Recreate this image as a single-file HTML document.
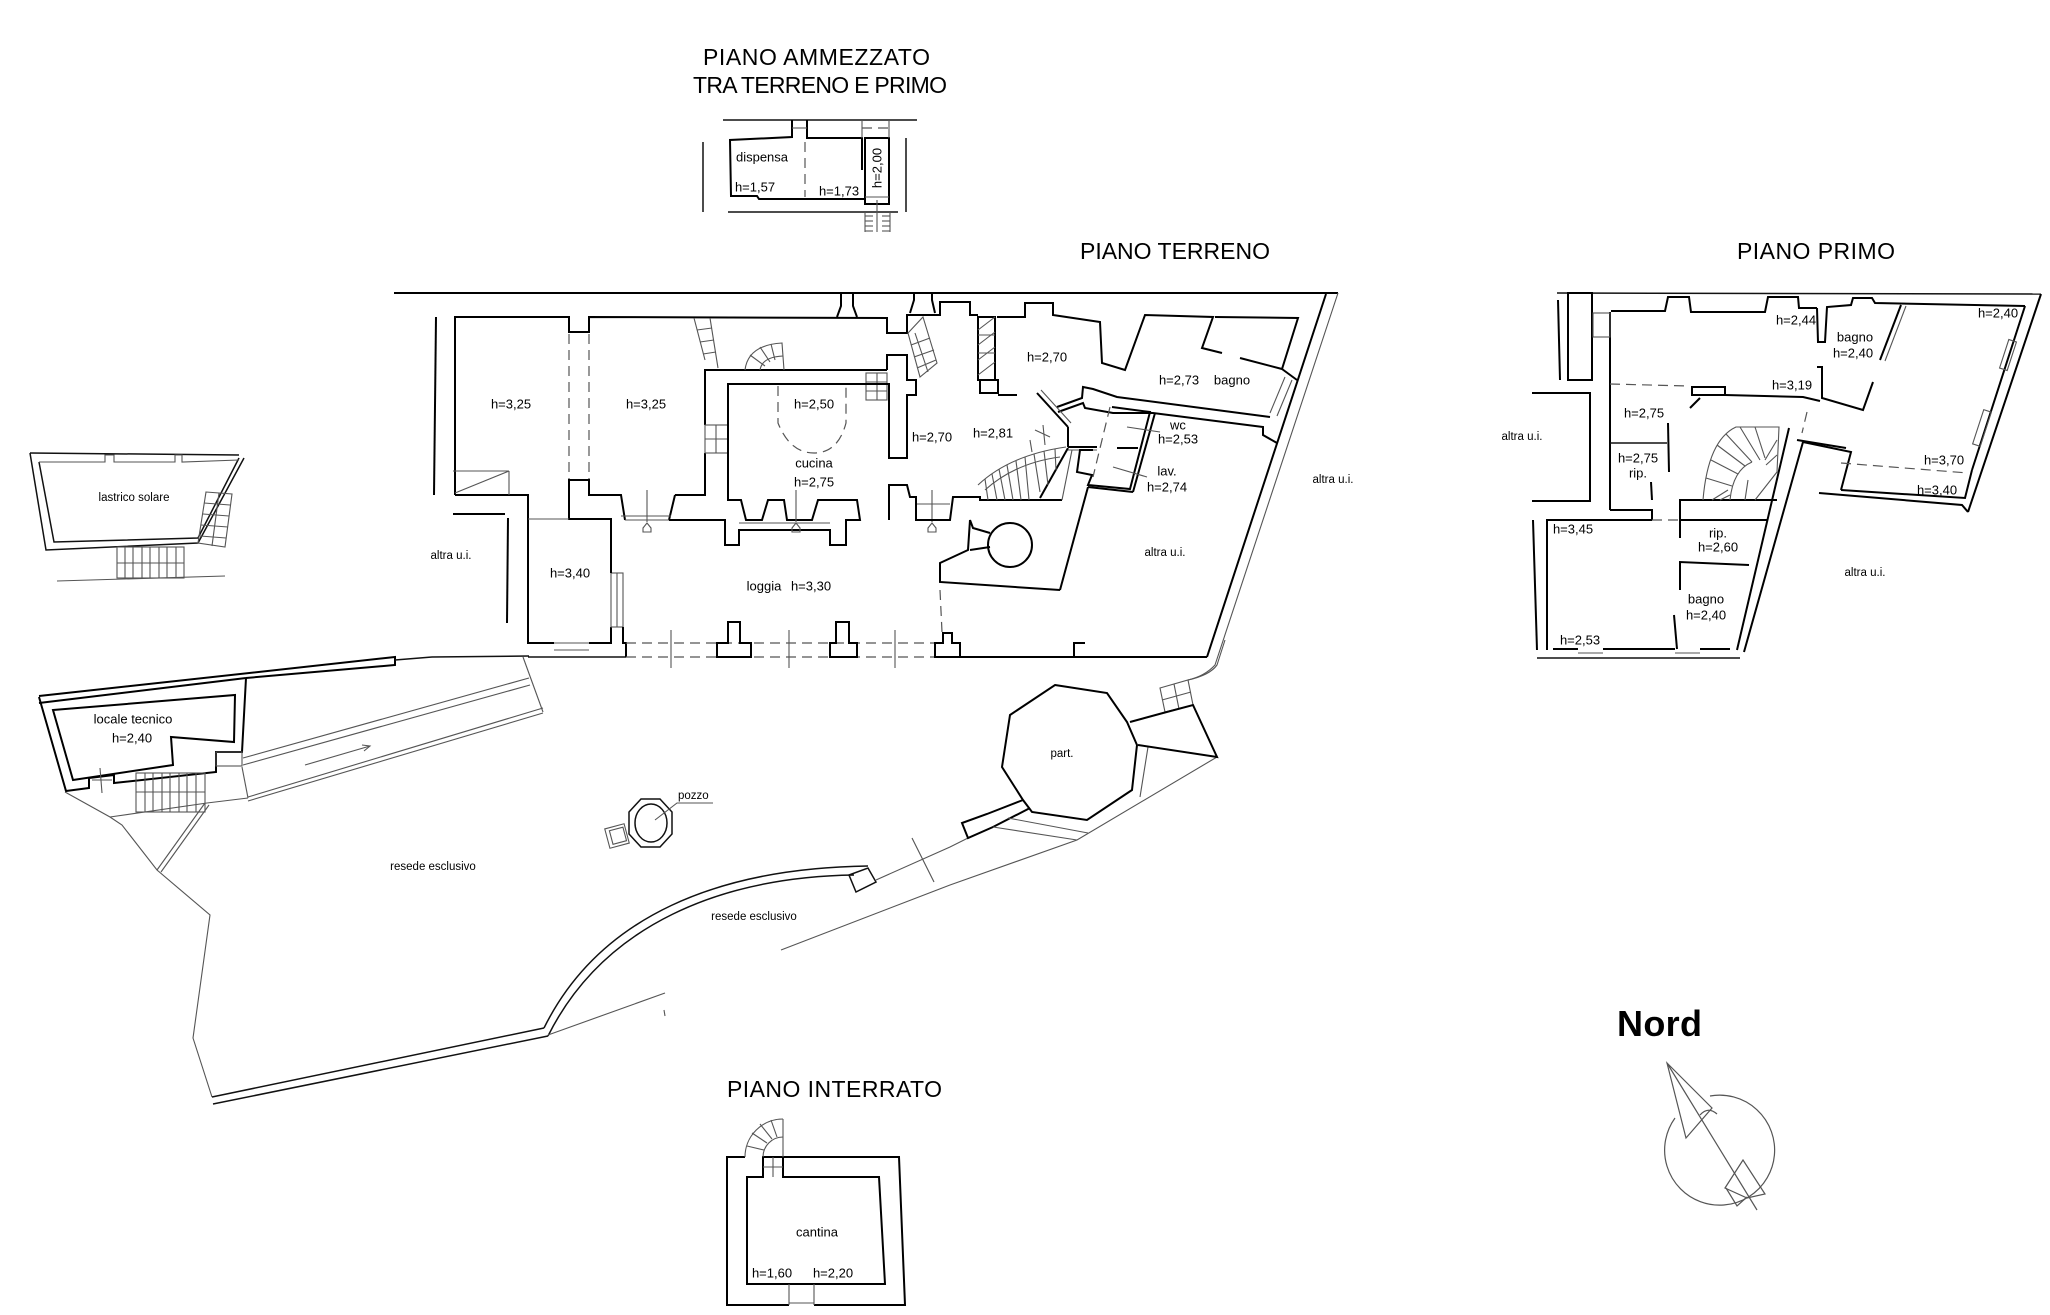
<!DOCTYPE html>
<html><head><meta charset="utf-8"><style>
html,body{margin:0;padding:0;background:#fff;}
svg{display:block;}
.w{fill:none;stroke:#000;stroke-width:2.0;stroke-linejoin:miter}
.m{fill:none;stroke:#111;stroke-width:1.5}
.t{fill:none;stroke:#555;stroke-width:1.1}
.d{fill:none;stroke:#555;stroke-width:1.2;stroke-dasharray:10 6}
text{font-family:"Liberation Sans",sans-serif;fill:#000}
.s{font-size:13px;text-anchor:middle;dominant-baseline:central}
.a{font-size:11.5px;text-anchor:middle;dominant-baseline:central}
.T{font-size:23px}
</style></head><body>
<svg width="2050" height="1315" viewBox="0 0 2050 1315" xmlns="http://www.w3.org/2000/svg">
<rect width="2050" height="1315" fill="#fff"/>

<!-- TITLES -->
<text class="T" x="703" y="65" textLength="227">PIANO AMMEZZATO</text>
<text class="T" x="693" y="93" textLength="254">TRA TERRENO E PRIMO</text>
<text class="T" x="1080" y="259" textLength="190">PIANO TERRENO</text>
<text class="T" x="1737" y="259" textLength="158">PIANO PRIMO</text>
<text class="T" x="727" y="1097" textLength="215">PIANO INTERRATO</text>
<text x="1617" y="1036" font-size="36" font-weight="bold" textLength="85">Nord</text>

<!-- DISPENSA -->
<line class="m" x1="723" y1="120" x2="917" y2="120"/>
<line class="m" x1="728" y1="212" x2="898" y2="212"/>
<line class="m" x1="703" y1="142" x2="703" y2="212"/>
<line class="m" x1="906" y1="138" x2="906" y2="212"/>
<polyline class="w" points="792,120 792,137 730,140 731,196 757,196 759,199 865,199"/>
<polyline class="w" points="807,120 807,138 862,138 862,170"/>
<rect class="w" x="865" y="138" width="24" height="66"/>
<line class="t" x1="865" y1="197" x2="889" y2="197"/>
<line class="t" x1="862" y1="120" x2="862" y2="138"/>
<line class="t" x1="889" y1="120" x2="889" y2="138"/>
<line class="d" x1="862" y1="128" x2="889" y2="128"/>
<line class="t" x1="792" y1="128" x2="807" y2="128"/>
<line class="d" x1="805" y1="142" x2="805" y2="197"/>
<g class="t"><line x1="865" y1="212" x2="865" y2="232"/><line x1="890" y1="212" x2="890" y2="232"/><line x1="877" y1="232" x2="877" y2="200"/>
<line x1="865" y1="216" x2="873" y2="216"/><line x1="865" y1="221" x2="873" y2="221"/><line x1="865" y1="226" x2="873" y2="226"/><line x1="865" y1="231" x2="873" y2="231"/>
<line x1="882" y1="216" x2="890" y2="216"/><line x1="882" y1="221" x2="890" y2="221"/><line x1="882" y1="226" x2="890" y2="226"/><line x1="882" y1="231" x2="890" y2="231"/></g>
<text class="s" x="762" y="157">dispensa</text>
<text class="s" x="755" y="187">h=1,57</text>
<text class="s" x="839" y="191">h=1,73</text>
<text class="s" x="877" y="168" transform="rotate(-90 877 168)">h=2,00</text>

<!-- LASTRICO SOLARE -->
<polyline class="m" points="30,453 239,455"/>
<polyline class="m" points="30,453 46,550 198,543 244,458"/>
<polyline class="m" points="39,462 54,542 198,538 239,458"/>
<polyline class="t" points="39,462 105,462 105,455 114,455 114,462 175,462 175,455 182,455 182,462 239,460"/>
<g class="t"><polygon points="206,492 232,494 225,547 198,543"/>
<line x1="204" y1="503" x2="230" y2="505"/><line x1="203" y1="514" x2="229" y2="516"/><line x1="201" y1="525" x2="228" y2="527"/><line x1="200" y1="536" x2="226" y2="538"/><line x1="219" y1="493" x2="212" y2="546"/>
<rect x="117" y="547" width="67" height="31"/><line x1="117" y1="563" x2="184" y2="563"/>
<line x1="125" y1="547" x2="125" y2="578"/><line x1="133" y1="547" x2="133" y2="578"/><line x1="142" y1="547" x2="142" y2="578"/><line x1="150" y1="547" x2="150" y2="578"/><line x1="159" y1="547" x2="159" y2="578"/><line x1="167" y1="547" x2="167" y2="578"/><line x1="176" y1="547" x2="176" y2="578"/>
<line x1="57" y1="581" x2="225" y2="576"/></g>
<text class="a" x="134" y="498" font-size="12">lastrico solare</text>

<!-- LOCALE TECNICO -->
<polyline class="w" points="39,696 395,657 395,665 246,678"/>
<line class="w" x1="39" y1="703" x2="246" y2="678"/>
<polyline class="w" points="39,697 66,791 89,788 89,778 114,775 114,783 216,772 216,752 242,752 246,678"/>
<polygon class="w" points="53,710 235,695 234,742 171,737 173,765 73,780"/>
<polyline class="m" points="395,660 432,657 529,656"/>
<g class="t">
<line x1="243" y1="758" x2="529" y2="678"/><line x1="243" y1="765" x2="530" y2="685"/>
<line x1="248" y1="797" x2="543" y2="708"/><line x1="248" y1="801" x2="543" y2="713"/>
<line x1="523" y1="657" x2="543" y2="712"/>
<line x1="305" y1="765" x2="370" y2="746"/><polyline points="362,745 370,746 364,751"/>
<rect x="136" y="773" width="69" height="39"/><line x1="136" y1="792" x2="205" y2="792"/>
<line x1="145" y1="773" x2="145" y2="812"/><line x1="153" y1="773" x2="153" y2="812"/><line x1="162" y1="773" x2="162" y2="812"/><line x1="170" y1="773" x2="170" y2="812"/><line x1="179" y1="773" x2="179" y2="812"/><line x1="187" y1="773" x2="187" y2="812"/><line x1="196" y1="773" x2="196" y2="812"/>
<line x1="100" y1="768" x2="102" y2="793"/><line x1="92" y1="780" x2="112" y2="780"/>
<rect x="216" y="752" width="26" height="14"/>
<polyline points="65,792 110,817 122,825 157,870 210,915 193,1038 212,1097"/>
<polyline points="110,817 207,803 248,798"/>
<line x1="242" y1="767" x2="248" y2="798"/>
<line x1="157" y1="870" x2="205" y2="803"/><line x1="161" y1="872" x2="209" y2="805"/>
</g>
<text class="s" x="133" y="719">locale tecnico</text>
<text class="s" x="132" y="738">h=2,40</text>

<!-- GARDEN WALL & ARC -->
<line class="m" x1="212" y1="1097" x2="544" y2="1028"/>
<line class="m" x1="213" y1="1104" x2="548" y2="1036"/>
<path class="m" d="M544,1028 C600,915 720,868 868,866"/>
<path class="m" d="M548,1036 C604,924 722,877 854,875"/>
<polygon class="m" points="849,875 868,868 876,882 856,892"/>
<g class="t">
<line x1="548" y1="1035" x2="665" y2="993"/>
<line x1="664" y1="1010" x2="665" y2="1016"/>
<polyline points="781,950 950,885 1077,840 1217,757"/>
<polyline points="876,880 950,847 968,838"/>
<line x1="912" y1="838" x2="934" y2="882"/>
</g>
<text class="a" x="433" y="867">resede esclusivo</text>
<text class="a" x="754" y="917">resede esclusivo</text>

<!-- POZZO -->
<polygon class="m" points="641,799 660,799 672,812 672,834 660,847 641,847 629,834 629,812"/>
<ellipse class="m" cx="651" cy="823" rx="16" ry="19"/>
<rect class="t" x="607" y="826" width="20" height="20" transform="rotate(-15 617 836)"/>
<rect class="t" x="611" y="829" width="14" height="14" transform="rotate(-15 617 836)"/>
<polyline class="t" points="655,820 677,803 713,803"/>
<text x="678" y="799" font-size="11.5">pozzo</text>

<!-- PART. -->
<polygon class="w" points="1055,685 1107,693 1127,722 1137,745 1132,790 1087,820 1032,812 1023,800 1002,767 1010,715"/>
<polyline class="w" points="1023,800 987,814 962,823 968,838 993,827 1030,808"/>
<g class="t"><line x1="1008" y1="818" x2="1088" y2="833"/><line x1="993" y1="827" x2="1077" y2="840"/>
<line x1="1148" y1="747" x2="1140" y2="797"/>
<polygon points="1160,688 1188,680 1193,705 1165,712"/><line x1="1174" y1="684" x2="1179" y2="709"/><line x1="1162" y1="700" x2="1191" y2="692"/>
<path d="M1188,680 Q1210,675 1217,665 L1225,640"/></g>
<polyline class="w" points="1130,722 1163,713 1193,705 1217,757 1138,745"/>
<text class="a" x="1062" y="754" font-size="12">part.</text>

<!-- PIANO TERRENO main -->
<line class="w" x1="394" y1="293" x2="1338" y2="293"/>
<line class="w" x1="436" y1="317" x2="434" y2="495"/>
<polyline class="w" points="455,495 455,317 569,317 569,332 589,332 589,317 887,318 887,333 907,333 907,315 940,315 940,302 970,302 970,315 978,315"/>
<polyline class="w" points="837,317 841,306 841,293"/><polyline class="w" points="857,317 853,306 853,293"/>
<polyline class="w" points="910,313 914,300 914,293"/><polyline class="w" points="935,313 932,300 932,293"/>
<line class="d" x1="569" y1="334" x2="569" y2="480"/>
<line class="d" x1="589" y1="334" x2="589" y2="480"/>
<polyline class="w" points="455,495 528,495 528,643 554,643"/>
<line class="m" x1="528" y1="657" x2="626" y2="657"/>
<line class="t" x1="554" y1="650" x2="589" y2="650"/><line class="t" x1="554" y1="643" x2="589" y2="643"/>
<polyline class="w" points="589,643 611,643 611,627"/>
<rect class="t" x="611" y="573" width="12" height="54"/><line class="t" x1="617" y1="573" x2="617" y2="627"/>
<polyline class="w" points="623,627 623,643 626,643 626,657"/>
<polyline class="w" points="611,573 611,519 569,519 569,480 589,480 589,495 621,495 625,520"/>
<line class="t" x1="528" y1="519" x2="569" y2="519"/>
<polyline class="w" points="675,495 669,520"/>
<polyline class="w" points="675,495 705,495 705,453"/>
<polyline class="w" points="705,425 705,370 887,370"/>
<g class="t"><rect x="705" y="425" width="23" height="28"/><line x1="716" y1="425" x2="716" y2="453"/><line x1="705" y1="439" x2="728" y2="439"/>
<line x1="625" y1="520" x2="669" y2="520"/><line x1="621" y1="516" x2="671" y2="516"/>
<line x1="647" y1="490" x2="647" y2="522"/><polygon points="643,528 647,523 651,528 651,532 643,532"/>
<line x1="453" y1="471" x2="509" y2="471"/><line x1="509" y1="471" x2="509" y2="495"/><line x1="455" y1="493" x2="509" y2="471"/>
<line x1="694" y1="318" x2="705" y2="360"/><line x1="710" y1="318" x2="718" y2="368"/>
<line x1="697" y1="330" x2="712" y2="328"/><line x1="700" y1="342" x2="714" y2="340"/><line x1="703" y1="354" x2="716" y2="352"/>
<path d="M745,370 Q748,345 782,343 L784,370"/><path d="M760,370 Q762,357 783,356"/>
<line x1="750" y1="355" x2="765" y2="366"/><line x1="760" y1="347" x2="770" y2="362"/><line x1="771" y1="344" x2="775" y2="360"/>
<rect x="866" y="373" width="21" height="27"/><line x1="866" y1="382" x2="887" y2="382"/><line x1="866" y1="391" x2="887" y2="391"/><line x1="877" y1="373" x2="877" y2="400"/>
</g>
<polyline class="w" points="728,453 728,384 889,384 889,458 907,458 907,395 916,395 916,380 907,380 907,355 887,355 887,370"/>
<polyline class="w" points="669,520 725,520 725,545 739,545 739,530 830,530 830,545 846,545 846,520 860,520 857,500 818,500 812,520 787,520 784,500 768,500 762,520 746,520 741,500 728,500 728,453"/>
<line class="t" x1="739" y1="523" x2="830" y2="523"/>
<path class="d" d="M778,386 V423 Q790,453 814,453 Q838,453 846,423 V386"/>
<g class="t"><line x1="796" y1="490" x2="796" y2="522"/><polygon points="792,528 796,523 800,528 800,532 792,532"/>
<line x1="932" y1="490" x2="932" y2="522"/><polygon points="928,528 932,523 936,528 936,532 928,532"/>
<line x1="916" y1="504" x2="950" y2="504"/></g>
<polyline class="w" points="889,520 889,485 907,485 910,497 916,497 916,520 950,520 953,497 980,497 980,500 1062,500"/>

<!-- loggia bottom -->
<line class="d" x1="626" y1="643" x2="935" y2="643"/>
<line class="d" x1="626" y1="657" x2="935" y2="657"/>
<polygon class="w" fill="#fff" points="717,657 717,643 728,643 728,622 740,622 740,643 751,643 751,657"/>
<polygon class="w" fill="#fff" points="830,657 830,643 836,643 836,622 849,622 849,643 857,643 857,657"/>
<polygon class="w" fill="#fff" points="935,657 935,643 943,643 943,633 952,633 952,643 960,643 960,657"/>
<g class="t"><line x1="671" y1="630" x2="671" y2="668"/><line x1="789" y1="630" x2="789" y2="668"/><line x1="895" y1="630" x2="895" y2="668"/></g>
<line class="d" x1="940" y1="590" x2="942" y2="632"/>
<polyline class="w" points="960,657 1074,657 1074,643 1085,643"/>
<line class="w" x1="1074" y1="657" x2="1207" y2="657"/>

<!-- left altra u.i. -->
<line class="w" x1="453" y1="514" x2="505" y2="514"/>
<line class="w" x1="508" y1="518" x2="507" y2="623"/>

<!-- right part of piano terreno -->
<rect class="w" x="978" y="317" width="17" height="63"/>
<rect class="w" x="980" y="380" width="18" height="13"/>
<g class="t"><line x1="978" y1="330" x2="995" y2="317"/><line x1="978" y1="345" x2="995" y2="332"/><line x1="978" y1="360" x2="995" y2="347"/><line x1="978" y1="375" x2="995" y2="362"/>
<line x1="978" y1="335" x2="995" y2="335"/><line x1="978" y1="353" x2="995" y2="353"/></g>
<line class="w" x1="998" y1="395" x2="1017" y2="395"/>
<polyline class="w" points="997,317 1025,317 1025,303 1053,303 1053,315 1100,322 1102,363 1125,370 1145,315 1213,317 1202,348 1222,353"/>
<polyline class="w" points="1215,317 1298,318 1282,369 1240,358"/>
<line class="w" x1="1282" y1="369" x2="1297" y2="380"/>
<line class="t" x1="1285" y1="377" x2="1270" y2="413"/><line class="t" x1="1292" y1="380" x2="1277" y2="416"/>
<polyline class="w" points="1057,407 1082,398 1083,387 1093,389 1117,397 1270,417"/>
<polyline class="w" points="1058,412 1083,403 1085,408 1113,413 1153,413 1263,427 1263,435 1277,443"/>
<polygon points="923,317 937,363 920,377 908,333" class="t"/>
<g class="t"><line x1="911" y1="345" x2="930" y2="338"/><line x1="914" y1="357" x2="934" y2="350"/><line x1="917" y1="368" x2="936" y2="360"/><line x1="915" y1="333" x2="928" y2="372"/></g>
<line class="w" x1="1037" y1="393" x2="1068" y2="427"/><line class="t" x1="1041" y1="390" x2="1071" y2="423"/>
<line class="w" x1="1068" y1="427" x2="1068" y2="447"/>
<line class="w" x1="1068" y1="447" x2="1097" y2="447"/><line class="t" x1="1068" y1="450" x2="1097" y2="450"/>
<line class="w" x1="1068" y1="448" x2="1040" y2="498"/><line class="t" x1="1072" y1="450" x2="1062" y2="500"/>
<g class="t"><path d="M978,485 Q1010,455 1066,447"/><path d="M985,490 Q1015,463 1060,457"/>
<line x1="985" y1="479" x2="988" y2="500"/><line x1="992" y1="474" x2="997" y2="500"/><line x1="999" y1="469" x2="1005" y2="500"/><line x1="1007" y1="465" x2="1013" y2="500"/><line x1="1016" y1="461" x2="1021" y2="500"/><line x1="1025" y1="457" x2="1029" y2="500"/><line x1="1034" y1="454" x2="1040" y2="492"/><line x1="1044" y1="451" x2="1048" y2="485"/><line x1="1055" y1="449" x2="1056" y2="470"/>
<line x1="1035" y1="430" x2="1050" y2="437"/><line x1="1043" y1="425" x2="1045" y2="445"/><line x1="1030" y1="440" x2="1032" y2="452"/></g>
<polyline class="w" points="1093,450 1080,450 1077,472 1092,475 1088,485 1130,489 1150,412 1112,407"/>
<line class="w" x1="1155" y1="413" x2="1133" y2="492"/>
<line class="w" x1="1088" y1="487" x2="1133" y2="492"/>
<line class="w" x1="1117" y1="448" x2="1138" y2="448"/>
<line class="d" x1="1110" y1="407" x2="1093" y2="477"/>
<line class="t" x1="1127" y1="427" x2="1160" y2="432"/><line class="t" x1="1113" y1="467" x2="1147" y2="477"/>
<polyline class="w" points="970,520 968,550 940,563 940,582 1060,590"/>
<polyline class="w" points="970,520 973,528 990,533"/><line class="w" x1="970" y1="550" x2="990" y2="547"/>
<circle class="w" cx="1010" cy="545" r="22"/>
<line class="w" x1="1088" y1="487" x2="1060" y2="590"/>
<line class="w" x1="1326" y1="294" x2="1207" y2="657"/>
<path class="t" d="M1338,293 L1215,665 Q1205,676 1188,680"/>

<text class="s" x="511" y="404">h=3,25</text>
<text class="s" x="646" y="404">h=3,25</text>
<text class="s" x="814" y="404">h=2,50</text>
<text class="s" x="814" y="463">cucina</text>
<text class="s" x="814" y="482">h=2,75</text>
<text class="s" x="570" y="573">h=3,40</text>
<text class="s" x="764" y="586">loggia</text>
<text class="s" x="811" y="586">h=3,30</text>
<text class="s" x="932" y="437">h=2,70</text>
<text class="s" x="993" y="433">h=2,81</text>
<text class="s" x="1047" y="357">h=2,70</text>
<text class="s" x="1179" y="380">h=2,73</text>
<text class="s" x="1232" y="380">bagno</text>
<text class="s" x="1178" y="425">wc</text>
<text class="s" x="1178" y="439">h=2,53</text>
<text class="s" x="1167" y="471">lav.</text>
<text class="s" x="1167" y="487">h=2,74</text>
<text class="a" x="1165" y="553">altra u.i.</text>
<text class="a" x="1333" y="480">altra u.i.</text>
<text class="a" x="451" y="556">altra u.i.</text>

<!-- PIANO PRIMO -->
<line class="m" x1="1557" y1="293" x2="2041" y2="294"/>
<line class="w" x1="2041" y1="294" x2="1968" y2="512"/>
<line class="w" x1="2025" y1="306" x2="1972" y2="470"/>
<g class="t"><rect x="2004" y="340" width="8" height="30" transform="rotate(18 2008 355)"/><rect x="1978" y="410" width="8" height="36" transform="rotate(18 1982 428)"/></g>
<polyline class="w" points="1819,493 1962,505 1968,512"/>
<polyline class="w" points="1841,490 1965,498 1972,470"/>
<polyline class="w" points="1803,442 1851,452 1841,490"/>
<polyline class="w" points="1797,440 1846,448"/>
<line class="w" x1="1789" y1="428" x2="1737" y2="650"/>
<line class="w" x1="1803" y1="442" x2="1744" y2="652"/>
<polyline class="w" points="1611,311 1665,311 1668,297 1689,297 1691,312 1765,312 1768,297 1798,297 1799,308 1817,308"/>
<polyline class="w" points="1817,308 1818,342 1825,342 1827,307 1851,305 1853,298 1872,298 1875,303 2025,306"/>
<line class="w" x1="1901" y1="305" x2="1880" y2="360"/><line class="t" x1="1906" y1="306" x2="1885" y2="361"/>
<polyline class="w" points="1817,367 1822,367 1822,398 1863,410 1873,382"/>
<polyline class="w" points="1725,395 1803,397 1820,401"/>
<rect class="w" x="1692" y="387" width="33" height="8"/>
<line class="w" x1="1700" y1="398" x2="1690" y2="408"/>
<rect class="w" x="1568" y="293" width="24" height="87"/>
<line class="w" x1="1558" y1="300" x2="1560" y2="380"/>
<line class="w" x1="1610" y1="312" x2="1610" y2="510"/>
<rect class="t" x="1593" y="313" width="17" height="24"/>
<polyline class="w" points="1532,393 1590,393 1590,501 1532,501"/>
<line class="m" x1="1610" y1="443" x2="1667" y2="443"/>
<line class="w" x1="1668" y1="423" x2="1669" y2="472"/>
<polyline class="w" points="1610,510 1652,510 1652,520"/>
<line class="w" x1="1651" y1="482" x2="1652" y2="500"/>
<line class="d" x1="1610" y1="384" x2="1688" y2="386"/>
<line class="d" x1="1807" y1="412" x2="1802" y2="433"/>
<line class="d" x1="1841" y1="463" x2="1968" y2="473"/>
<polyline class="w" points="1547,650 1547,520 1652,520"/>
<line class="w" x1="1533" y1="520" x2="1537" y2="650"/>
<line class="d" x1="1652" y1="520" x2="1680" y2="520"/>
<polyline class="w" points="1680,538 1680,500 1777,500"/>
<line class="w" x1="1680" y1="520" x2="1767" y2="520"/>
<polyline class="w" points="1680,590 1680,562 1749,565"/>
<line class="w" x1="1674" y1="615" x2="1677" y2="649"/>
<polyline class="w" points="1553,649 1578,649"/><polyline class="w" points="1603,649 1675,649"/><polyline class="w" points="1700,649 1730,649"/>
<line class="m" x1="1537" y1="658" x2="1740" y2="658"/>
<g class="t"><line x1="1578" y1="653" x2="1603" y2="653"/><line x1="1675" y1="653" x2="1700" y2="653"/>
<path d="M1703,500 Q1708,440 1736,427 L1779,427 L1777,472 L1755,500"/>
<path d="M1730,500 Q1733,470 1752,462"/>
<line x1="1706" y1="478" x2="1732" y2="486"/><line x1="1711" y1="460" x2="1738" y2="474"/><line x1="1717" y1="445" x2="1745" y2="466"/><line x1="1726" y1="434" x2="1752" y2="462"/>
<line x1="1740" y1="427" x2="1760" y2="460"/><line x1="1755" y1="427" x2="1765" y2="458"/><line x1="1777" y1="440" x2="1765" y2="460"/><line x1="1777" y1="455" x2="1766" y2="465"/>
<line x1="1712" y1="500" x2="1728" y2="490"/><line x1="1720" y1="500" x2="1730" y2="495"/><line x1="1745" y1="500" x2="1748" y2="480"/></g>

<text class="s" x="1796" y="320">h=2,44</text>
<text class="s" x="1855" y="337">bagno</text>
<text class="s" x="1853" y="353">h=2,40</text>
<text class="s" x="1998" y="313">h=2,40</text>
<text class="s" x="1792" y="385">h=3,19</text>
<text class="s" x="1644" y="413">h=2,75</text>
<text class="s" x="1638" y="458">h=2,75</text>
<text class="s" x="1638" y="473">rip.</text>
<text class="s" x="1944" y="460">h=3,70</text>
<text class="s" x="1937" y="490">h=3,40</text>
<text class="s" x="1573" y="529">h=3,45</text>
<text class="s" x="1580" y="640">h=2,53</text>
<text class="s" x="1718" y="533">rip.</text>
<text class="s" x="1718" y="547">h=2,60</text>
<text class="s" x="1706" y="599">bagno</text>
<text class="s" x="1706" y="615">h=2,40</text>
<text class="a" x="1522" y="437">altra u.i.</text>
<text class="a" x="1865" y="573">altra u.i.</text>

<!-- PIANO INTERRATO -->
<polyline class="w" points="745,1157 727,1157 727,1305 789,1305"/>
<polyline class="w" points="783,1157 899,1157 905,1305 814,1305"/>
<polygon class="w" points="747,1177 763,1177 763,1157 783,1157 783,1177 879,1177 885,1284 747,1284"/>
<g class="t"><line x1="789" y1="1284" x2="789" y2="1305"/><line x1="814" y1="1284" x2="814" y2="1305"/><line x1="789" y1="1303" x2="814" y2="1303"/>
<line x1="773" y1="1157" x2="773" y2="1177"/><line x1="763" y1="1167" x2="783" y2="1167"/>
<path d="M745,1157 A38,38 0 0 1 783,1119"/>
<path d="M763,1157 A20,20 0 0 1 783,1137"/>
<line x1="783" y1="1119" x2="783" y2="1157"/>
<line x1="747" y1="1146" x2="764" y2="1150"/><line x1="752" y1="1133" x2="767" y2="1143"/><line x1="760" y1="1124" x2="772" y2="1139"/><line x1="771" y1="1120" x2="777" y2="1137"/></g>
<text class="s" x="817" y="1232">cantina</text>
<text class="s" x="772" y="1273">h=1,60</text>
<text class="s" x="833" y="1273">h=2,20</text>

<!-- NORD -->
<g fill="none" stroke="#555" stroke-width="1.2">
<polygon points="1667,1063 1712,1108 1686,1138"/>
<line x1="1667" y1="1063" x2="1757" y2="1210"/>
<path d="M1710,1096 A55,55 0 1 1 1675,1118"/>
<path d="M1700,1115 Q1708,1106 1717,1114"/>
<polygon points="1725,1188 1743,1160 1765,1194 1747,1198"/>
<polyline points="1726,1188 1737,1206 1747,1197"/>
</g>
</svg>
</body></html>
